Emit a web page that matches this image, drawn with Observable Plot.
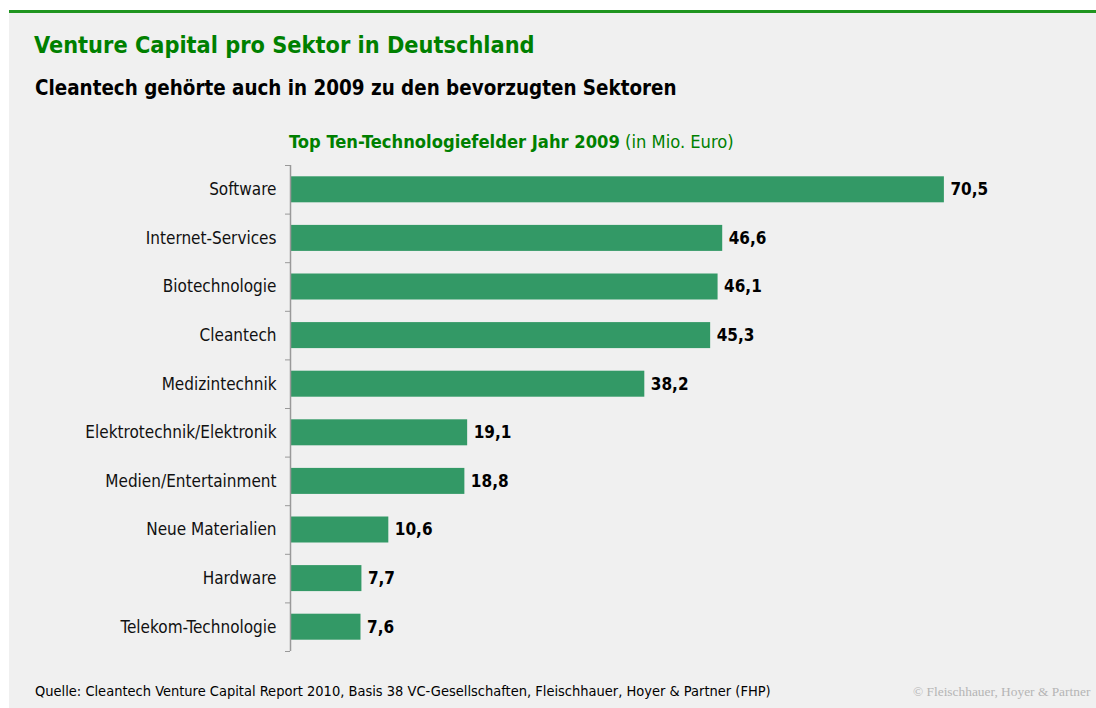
<!DOCTYPE html>
<html>
<head>
<meta charset="utf-8">
<script src="https://cdn.jsdelivr.net/npm/d3@7"></script>
<script src="https://cdn.jsdelivr.net/npm/@observablehq/plot@0.6"></script>
<style>
  html, body { margin: 0; padding: 0; background: #fff; }
  body { width: 1096px; height: 708px; position: relative; overflow: hidden; font-family: "DejaVu Sans Condensed", "DejaVu Sans", sans-serif; }
  #panel { position: absolute; left: 9px; top: 10px; width: 1087px; height: 698px; background: #f0f0f0; border-top: 3px solid #1f951f; box-sizing: border-box; }
  .t { position: absolute; white-space: nowrap; }
  #title { left: 34px; top: 31px; font-size: 23.3px; font-weight: bold; color: #008000; }
  #subtitle { left: 35px; top: 76px; font-size: 20.4px; font-weight: bold; color: #000; }
  #heading { left: 289px; top: 131px; font-size: 18.2px; color: #008000; }
  #heading b { font-weight: bold; }
  #chart { position: absolute; left: 9px; top: 155px; }
  #source { left: 35px; top: 683px; font-size: 14.5px; color: #000; }
  #copy { left: 913px; top: 684px; font-size: 13.4px; color: #b5b5b5; font-family: "Liberation Serif", serif; }
</style>
</head>
<body>
<div id="panel"></div>
<div class="t" id="title">Venture Capital pro Sektor in Deutschland</div>
<div class="t" id="subtitle">Cleantech gehörte auch in 2009 zu den bevorzugten Sektoren</div>
<div class="t" id="heading"><b>Top Ten-Technologiefelder Jahr 2009</b> (in Mio. Euro)</div>
<div id="chart"></div>
<div class="t" id="source">Quelle: Cleantech Venture Capital Report 2010, Basis 38 VC-Gesellschaften, Fleischhauer, Hoyer &amp; Partner (FHP)</div>
<div class="t" id="copy">© Fleischhauer, Hoyer &amp; Partner</div>
<script>
const sectors = ["Software", "Internet-Services", "Biotechnologie", "Cleantech", "Medizintechnik",
  "Elektrotechnik/Elektronik", "Medien/Entertainment", "Neue Materialien", "Hardware", "Telekom-Technologie"];
const values = [70.5, 46.6, 46.1, 45.3, 38.2, 19.1, 18.8, 10.6, 7.7, 7.6];

const data = sectors.map((s, i) => ({sector: s, value: values[i]}));
const fmt = v => v.toFixed(1).replace(".", ",");

const height = 500, marginTop = 10, marginBottom = 4;
const step = (height - marginTop - marginBottom) / sectors.length;

const chart = Plot.plot({
  width: 1087,
  height,
  marginLeft: 281,
  marginRight: 64,
  marginTop,
  marginBottom,
  style: {background: "transparent", fontFamily: "'DejaVu Sans Condensed', 'DejaVu Sans', sans-serif", fontSize: "16px", color: "#000", overflow: "visible"},
  x: {domain: [0, 80], axis: null},
  y: {domain: sectors, paddingInner: 0.465, paddingOuter: 0.2325, round: false, axis: null, label: null},
  marks: [
    Plot.barX(data, {y: "sector", x: "value", fill: "#339966"}),
    Plot.text(data, {y: "sector", x: "value", text: d => fmt(d.value), textAnchor: "start", dx: 6, fontWeight: "bold", fontSize: 17, fill: "#000"}),
    Plot.axisY({tickSize: 0, tickPadding: 14, fontSize: 17, fill: "#111", label: null}),
    Plot.axisY({tickSize: 5, tickFormat: () => "", dy: -step / 2, stroke: "#999", label: null}),
    Plot.axisY([sectors[sectors.length - 1]], {tickSize: 5, tickFormat: () => "", dy: step / 2, stroke: "#999", label: null}),
    Plot.ruleX([0], {stroke: "#999", strokeWidth: 1.5})
  ]
});
document.getElementById("chart").appendChild(chart);
</script>
</body>
</html>
